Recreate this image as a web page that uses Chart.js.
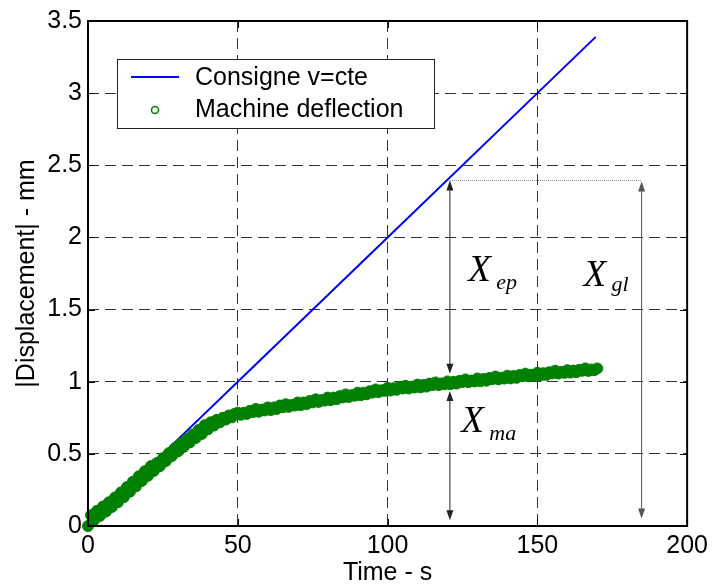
<!DOCTYPE html>
<html><head><meta charset="utf-8">
<script src="https://cdn.jsdelivr.net/npm/chart.js@4/dist/chart.umd.min.js"></script>
<style>html,body{margin:0;padding:0;background:#fff}</style>
</head><body>
<canvas id="c" width="713" height="587"></canvas>
<script>
const xTickLabels = ['0', '50', '100', '150', '200'];
const yTickLabels = ['0', '0.5', '1', '1.5', '2', '2.5', '3', '3.5'];
const seriesNames = ['Consigne v=cte', 'Machine deflection'];
const axisTitles = ['Time - s', '|Displacement| - mm'];

const consigneTime = [0, 25, 50, 100, 150, 169.5];
const consigneDisp = [0, 0.5, 1.0, 2.0, 3.0, 3.39];

const deflTime = [
  0,1,2,3,4,5,6,7,8,9,
  10,11,12,13,14,15,16,17,18,19,
  20,21,22,23,24,25,26,27,28,29,
  30,31,32,33,34,35,36,37,38,39,
  40,41,42,43,44,45,46,47,48,49,
  50,51,52,53,54,55,56,57,58,59,
  60,61,62,63,64,65,66,67,68,69,
  70,71,72,73,74,75,76,77,78,79,
  80,81,82,83,84,85,86,87,88,89,
  90,91,92,93,94,95,96,97,98,99,
  100,101,102,103,104,105,106,107,108,109,
  110,111,112,113,114,115,116,117,118,119,
  120,121,122,123,124,125,126,127,128,129,
  130,131,132,133,134,135,136,137,138,139,
  140,141,142,143,144,145,146,147,148,149,
  150,151,152,153,154,155,156,157,158,159,
  160,161,162,163,164,165,166,167,168,169,
  170
];
const deflDisp = [
  0, 0.075, 0.040, 0.105, 0.070, 0.135, 0.100, 0.165, 0.132, 0.198,
  0.165, 0.233, 0.201, 0.270, 0.238, 0.307, 0.275, 0.345, 0.313, 0.380,
  0.348, 0.415, 0.382, 0.436, 0.415, 0.470, 0.450, 0.505, 0.485, 0.539,
  0.517, 0.571, 0.549, 0.603, 0.580, 0.635, 0.610, 0.666, 0.638, 0.699,
  0.670, 0.719, 0.696, 0.736, 0.719, 0.750, 0.738, 0.766, 0.753, 0.778,
  0.785, 0.771, 0.785, 0.777, 0.798, 0.789, 0.811, 0.792, 0.806, 0.801,
  0.822, 0.804, 0.822, 0.811, 0.835, 0.823, 0.844, 0.826, 0.839, 0.835,
  0.856, 0.838, 0.856, 0.845, 0.866, 0.857, 0.878, 0.860, 0.873, 0.869,
  0.890, 0.872, 0.890, 0.879, 0.900, 0.891, 0.912, 0.894, 0.907, 0.903,
  0.924, 0.906, 0.924, 0.913, 0.934, 0.925, 0.946, 0.928, 0.941, 0.937,
  0.958, 0.939, 0.955, 0.944, 0.963, 0.953, 0.972, 0.953, 0.966, 0.960,
  0.980, 0.961, 0.978, 0.966, 0.987, 0.977, 0.995, 0.976, 0.988, 0.982,
  1.002, 0.983, 0.999, 0.987, 1.006, 0.998, 1.016, 0.997, 1.008, 1.002,
  1.022, 1.003, 1.019, 1.007, 1.026, 1.018, 1.036, 1.017, 1.028, 1.022,
  1.042, 1.023, 1.039, 1.027, 1.046, 1.038, 1.056, 1.037, 1.048, 1.042,
  1.062, 1.043, 1.059, 1.047, 1.066, 1.058, 1.076, 1.057, 1.068, 1.062,
  1.080, 1.063, 1.077, 1.066, 1.083, 1.076, 1.092, 1.075, 1.085, 1.080,
  1.092
];

// annotation labels (main letter + subscript)
const annoLabels = [['X', 'ep'], ['X', 'gl'], ['X', 'ma']];

const BLUE = '#0000ff', GREEN = '#008000';
const SANS = '"Liberation Sans", Arial, sans-serif';
const SERIF = '"Liberation Serif", "Times New Roman", serif';

const toXY = (xs, ys) => xs.map((v, i) => ({x: v, y: ys[i]}));

function vArrow(ctx, x, yTop, yBot, headTop, headBot, color) {
  const L = 10, W = 3.5;
  ctx.strokeStyle = color; ctx.fillStyle = color; ctx.lineWidth = 1;
  ctx.beginPath();
  ctx.moveTo(x, yTop + (headTop ? L - 1 : 0));
  ctx.lineTo(x, yBot - (headBot ? L - 1 : 0));
  ctx.stroke();
  if (headTop) { ctx.beginPath(); ctx.moveTo(x, yTop); ctx.lineTo(x - W, yTop + L); ctx.lineTo(x + W, yTop + L); ctx.closePath(); ctx.fill(); }
  if (headBot) { ctx.beginPath(); ctx.moveTo(x, yBot); ctx.lineTo(x - W, yBot - L); ctx.lineTo(x + W, yBot - L); ctx.closePath(); ctx.fill(); }
}

const decor = {
  id: 'decor',
  afterDatasetsDraw(chart) {
    const {ctx, chartArea: a, scales: {x, y}} = chart;
    ctx.save();
    // inward tick marks
    ctx.strokeStyle = '#000'; ctx.lineWidth = 1;
    ctx.beginPath();
    x.ticks.forEach(t => {
      const px = Math.round(x.getPixelForValue(t.value)) + 0.5;
      ctx.moveTo(px, a.bottom); ctx.lineTo(px, a.bottom - 7);
      ctx.moveTo(px, a.top); ctx.lineTo(px, a.top + 7);
    });
    y.ticks.forEach(t => {
      const py = Math.round(y.getPixelForValue(t.value)) + 0.5;
      ctx.moveTo(a.left, py); ctx.lineTo(a.left + 7, py);
      ctx.moveTo(a.right, py); ctx.lineTo(a.right - 7, py);
    });
    ctx.stroke();
    // frame
    ctx.lineWidth = 2;
    ctx.strokeRect(a.left, a.top, a.right - a.left, a.bottom - a.top);

    // annotation arrows
    const xa = x.getPixelForValue(120.8);
    const xg = x.getPixelForValue(184.8);
    const yTopLvl = y.getPixelForValue(2.395);
    vArrow(ctx, xa, yTopLvl, y.getPixelForValue(1.055), true, true, '#222');
    vArrow(ctx, xa, y.getPixelForValue(0.935), y.getPixelForValue(0.04), true, true, '#222');
    vArrow(ctx, xg, yTopLvl + 1, y.getPixelForValue(0.052), true, true, '#555');
    // dotted horizontal connector
    ctx.strokeStyle = '#888'; ctx.lineWidth = 1; ctx.setLineDash([1, 1]);
    ctx.beginPath(); ctx.moveTo(xa, Math.round(yTopLvl) + 0.5); ctx.lineTo(xg, Math.round(yTopLvl) + 0.5); ctx.stroke();
    ctx.setLineDash([]);

    // annotation texts
    const labelPos = [[126.9, 1.70, 8], [165.4, 1.66, 5], [124.6, 0.65, 8]];
    ctx.fillStyle = '#000'; ctx.textAlign = 'left'; ctx.textBaseline = 'alphabetic';
    annoLabels.forEach((lab, i) => {
      const [tx, ty, dy] = labelPos[i];
      const px = x.getPixelForValue(tx), py = y.getPixelForValue(ty);
      ctx.font = 'italic 37px ' + SERIF;
      ctx.fillText(lab[0], px, py);
      ctx.font = 'italic 22px ' + SERIF;
      ctx.fillText(lab[1], px + 28, py + dy);
    });
    ctx.restore();
  },
  afterDraw(chart) {
    const {ctx} = chart;
    const ds = chart.data.datasets;
    ctx.save();
    // legend box
    ctx.fillStyle = '#fff';
    ctx.fillRect(117, 59, 317, 69);
    ctx.strokeStyle = '#222'; ctx.lineWidth = 1;
    ctx.strokeRect(117.5, 59.5, 317, 69);
    // entry 1: line
    ctx.strokeStyle = ds[0].borderColor; ctx.lineWidth = 2;
    ctx.beginPath(); ctx.moveTo(131, 77); ctx.lineTo(179, 77); ctx.stroke();
    // entry 2: hollow circle marker
    ctx.strokeStyle = ds[1].pointBorderColor; ctx.lineWidth = 1.5;
    ctx.beginPath(); ctx.arc(155, 110, 3.5, 0, Math.PI * 2); ctx.stroke();
    ctx.fillStyle = '#000'; ctx.font = '25px ' + SANS; ctx.textBaseline = 'middle'; ctx.textAlign = 'left';
    ctx.fillText(ds[0].label, 195, 78);
    ctx.fillText(ds[1].label, 195, 110);
    ctx.restore();
  }
};

new Chart(document.getElementById('c'), {
  type: 'scatter',
  data: {
    datasets: [
      {
        label: seriesNames[0],
        data: toXY(consigneTime, consigneDisp),
        showLine: true,
        borderColor: BLUE,
        borderWidth: 2,
        pointRadius: 0,
        order: 2
      },
      {
        label: seriesNames[1],
        data: toXY(deflTime, deflDisp),
        showLine: false,
        pointStyle: 'circle',
        pointRadius: 5.5,
        pointBorderWidth: 1,
        pointBorderColor: GREEN,
        pointBackgroundColor: GREEN,
        borderColor: GREEN,
        clip: false,
        order: 1
      }
    ]
  },
  options: {
    responsive: false,
    animation: false,
    devicePixelRatio: 1,
    layout: {padding: {left: 0, top: 19, right: 23, bottom: 0}},
    plugins: {legend: {display: false}, tooltip: {enabled: false}},
    scales: {
      x: {
        type: 'linear', min: 0, max: 200,
        afterFit: s => { s.height = 61; },
        ticks: {
          stepSize: 50, padding: 5, color: '#000',
          font: {family: SANS, size: 25, lineHeight: 1.2},
          callback: (v, i) => xTickLabels[i]
        },
        grid: {color: '#333', lineWidth: 1, drawTicks: false},
        border: {display: false, dash: [11, 6]},
        title: {display: true, text: axisTitles[0], color: '#000',
          font: {family: SANS, size: 25, lineHeight: 1.1}, padding: {top: 0, bottom: 0}}
      },
      y: {
        type: 'linear', min: 0, max: 3.5,
        afterFit: s => { s.width = 88; },
        ticks: {
          stepSize: 0.5, padding: 6, color: '#000',
          font: {family: SANS, size: 25, lineHeight: 1.2},
          callback: (v, i) => yTickLabels[i]
        },
        grid: {color: '#333', lineWidth: 1, drawTicks: false},
        border: {display: false, dash: [11, 6]},
        title: {display: true, text: axisTitles[1], color: '#000',
          font: {family: SANS, size: 25, lineHeight: 1.2}, padding: {top: 12, bottom: 0}}
      }
    }
  },
  plugins: [decor]
});
</script>
</body></html>
